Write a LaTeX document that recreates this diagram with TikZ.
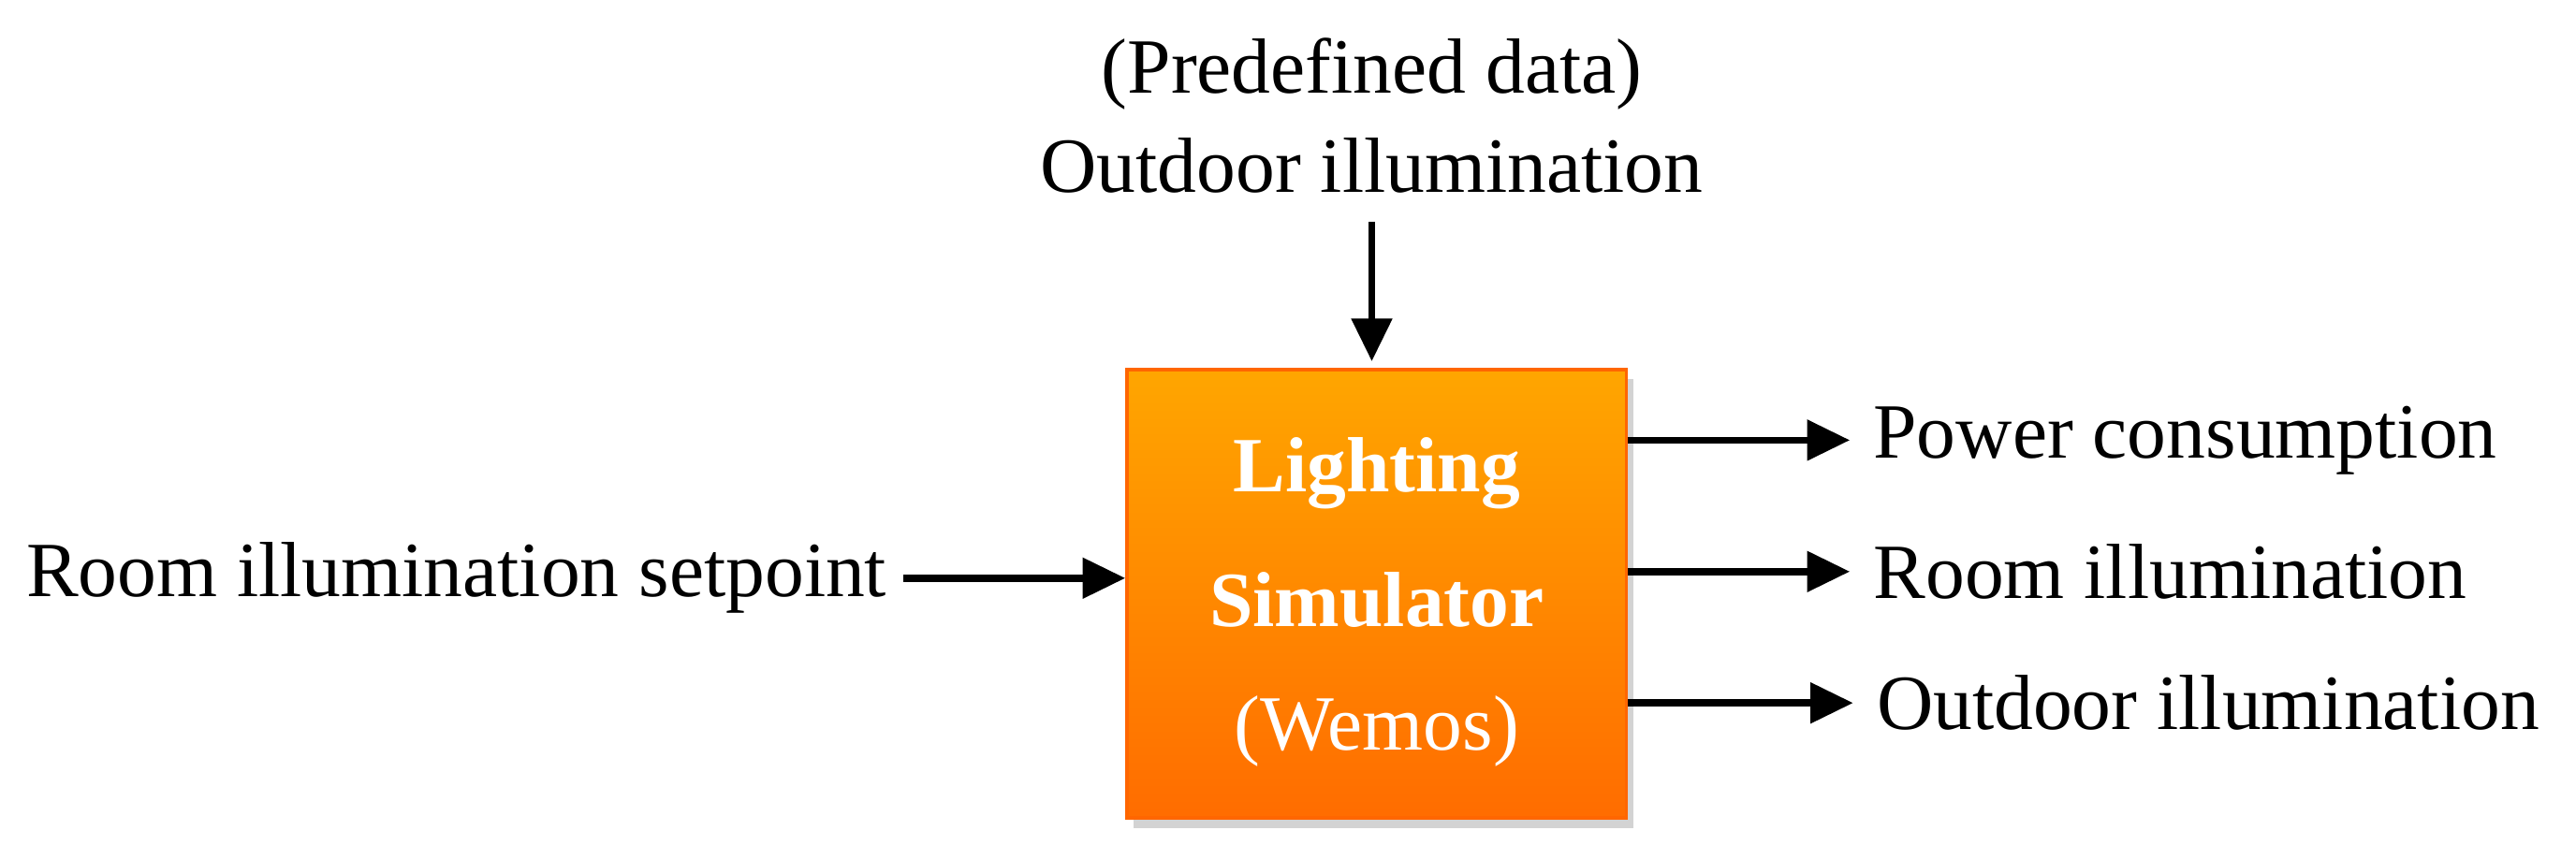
\documentclass[tikz,border=0pt]{standalone}
\usepackage{fontspec}
\setmainfont{Liberation Serif}
\usetikzlibrary{arrows.meta,shadows}
\begin{document}
\begin{tikzpicture}[x=0.5pt,y=-0.5pt,
  lbl/.style={font=\fontsize{23.8}{28}\selectfont, inner sep=0pt},
  arr/.style={line width=2.2pt,-{Triangle[length=13pt,width=12pt]}}]
\useasboundingbox (0,0) rectangle (1568,523.6);
\node[minimum width=152pt,minimum height=136.5pt,inner sep=0pt,
  top color=orange!70!yellow, bottom color=orange!85!red, draw=orange!80!red, line width=1pt,
  drop shadow={shadow xshift=2pt,shadow yshift=-3pt,opacity=0.35}] (box) at (838,361.5) {};
\node[lbl,text=white,font=\fontsize{23.8}{28}\selectfont\bfseries] (t1) at (838,288) {Lighting};
\node[lbl,text=white,font=\fontsize{23.8}{28}\selectfont\bfseries] (t2) at (838,365) {Simulator};
\node[lbl,text=white] (t3) at (838,445) {(Wemos)};
\node[lbl] (pd) at (835,45) {(Predefined data)};
\node[lbl] (oi) at (835,101) {Outdoor illumination};
\coordinate (top) at (835,135);
\draw[arr] (top) -- (835,220);
\node[lbl,anchor=east] (rs) at (540,352) {Room illumination setpoint};
\draw[arr] (rs.east)++(5pt,0) -- (box.west |- rs.east);
\node[lbl,anchor=west] (pc) at (1140,268) {Power consumption};
\node[lbl,anchor=west] (ri) at (1140,348) {Room illumination};
\node[lbl,anchor=west] (oo) at (1142,428) {Outdoor illumination};
\draw[arr] (box.east |- pc.west) -- ([xshift=-7pt]pc.west);
\draw[arr] (box.east |- ri.west) -- ([xshift=-7pt]ri.west);
\draw[arr] (box.east |- oo.west) -- ([xshift=-7pt]oo.west);
\end{tikzpicture}
\end{document}
